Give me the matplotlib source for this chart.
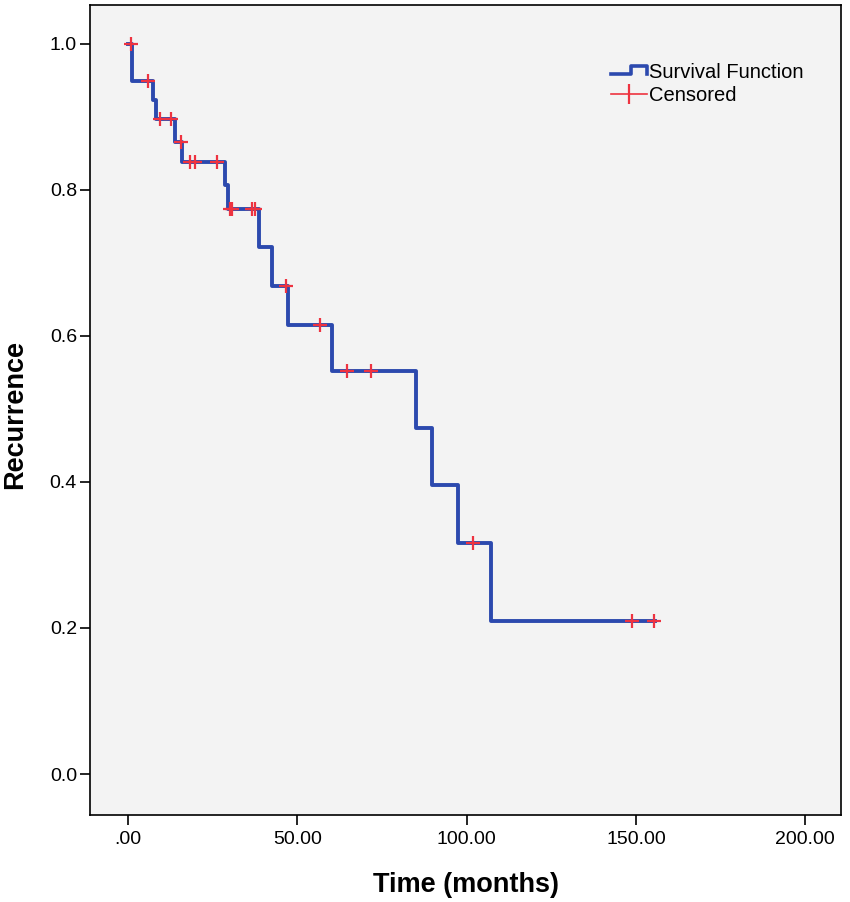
import numpy as np
import matplotlib.pyplot as plt
from matplotlib.lines import Line2D
from matplotlib.legend_handler import HandlerBase

plt.rcParams['font.family'] = ['Liberation Sans', 'DejaVu Sans']

# Kaplan-Meier step curve (time in months, survival)
step_t = [0.0, 1.2, 7.3, 8.2, 13.8, 15.9, 28.5, 29.4, 38.8, 42.6, 47.3, 60.2,
          85.2, 89.9, 97.5, 107.2, 155.5]
step_s = [1.0, 0.949, 0.923, 0.897, 0.866, 0.838, 0.807, 0.773, 0.721, 0.668,
          0.615, 0.552, 0.474, 0.396, 0.316, 0.210, 0.210]

# censored observations
cens_t = [0.9, 5.9, 9.4, 12.6, 15.6, 18.2, 19.7, 26.4, 30.0, 30.8, 36.7, 37.6,
          46.8, 56.7, 64.6, 71.7, 101.9, 148.9, 155.4]
cens_s = [1.0, 0.949, 0.897, 0.897, 0.866, 0.838, 0.838, 0.838, 0.773, 0.773,
          0.773, 0.773, 0.668, 0.615, 0.552, 0.552, 0.316, 0.210, 0.210]

xticks = [0, 50, 100, 150, 200]
xlabels = ['.00', '50.00', '100.00', '150.00', '200.00']
yticks = [0.0, 0.2, 0.4, 0.6, 0.8, 1.0]

blue = '#2C49AE'
red = '#EE3340'


class StepHandler(HandlerBase):
    def create_artists(self, legend, orig, xd, yd, w, h, fontsize, trans):
        xs = [xd, xd + w * 0.55, xd + w * 0.55, xd + w, xd + w]
        ys = [yd + h * 0.25, yd + h * 0.25, yd + h * 0.85, yd + h * 0.85, yd + h * 0.25]
        ln = Line2D(xs, ys, color=blue, lw=2.6, transform=trans)
        return [ln]


fig = plt.figure(figsize=(8.5, 9.02), dpi=100)
ax = fig.add_axes([0.106, 0.0965, 0.8835, 0.898])
ax.set_facecolor('#F3F3F3')

ax.step(step_t, step_s, where='post', color=blue, lw=2.8, zorder=2)
ax.plot(cens_t, cens_s, ls='none', marker='+', ms=10, mew=1.6, color=red, zorder=3)

ax.set_xlim(-11.2, 210.6)
ax.set_ylim(-0.056, 1.053)
ax.set_xticks(xticks)
ax.set_xticklabels(xlabels)
ax.set_yticks(yticks)
ax.set_yticklabels(['%.1f' % v for v in yticks])
ax.tick_params(direction='out', length=7.5, width=1.2, labelsize=14, colors='black')
ax.tick_params(axis='x', pad=4)
ax.tick_params(axis='y', pad=2)
for s in ax.spines.values():
    s.set_linewidth(1.2)

ax.set_xlabel('Time (months)', fontsize=19.5, fontweight='bold', va='top')
ax.set_ylabel('Recurrence', fontsize=19.5, fontweight='bold')
ax.xaxis.set_label_coords(0.5, -0.071)
ax.yaxis.set_label_coords(-0.082, 0.495)

h1 = Line2D([], [], color=blue, lw=2.6)
h2 = Line2D([], [], color=red, lw=1.2, marker='|', ms=14, mew=1.6)
leg = ax.legend([h1, h2], ['Survival Function', 'Censored'],
                handler_map={h1: StepHandler()},
                loc='upper left', bbox_to_anchor=(0.67, 0.951), frameon=False,
                fontsize=14.5, handlelength=1.75, handletextpad=0.1, labelspacing=0.2)

fig.savefig('out.png', dpi=100)
